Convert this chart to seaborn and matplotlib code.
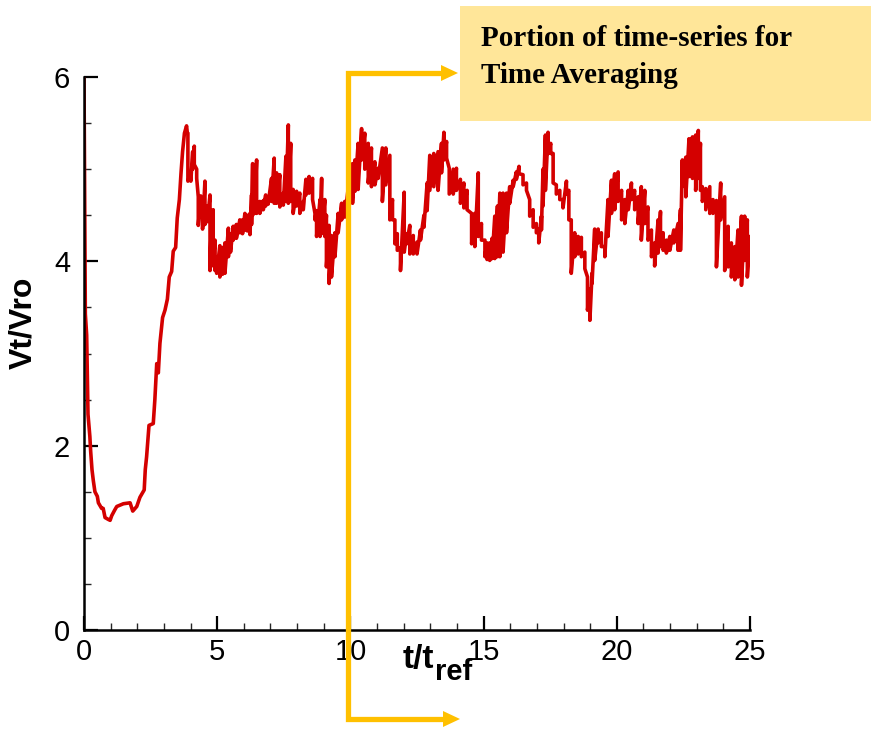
import numpy as np
import pandas as pd
import matplotlib
matplotlib.use('Agg')
import matplotlib.pyplot as plt
import seaborn as sns
from matplotlib.patches import Rectangle
from matplotlib.lines import Line2D

# start-up transient (smooth part of the signal)
t_rise = [0.0, 0.05, 0.1, 0.12, 0.15, 0.22, 0.25, 0.3, 0.35, 0.41, 0.5, 0.54,
          0.66, 0.72, 0.79, 0.91, 0.98, 1.04, 1.15, 1.23, 1.48, 1.73, 1.83, 1.98,
          2.1, 2.26, 2.3, 2.35, 2.44, 2.6, 2.66, 2.73, 2.79, 2.85, 2.95, 3.04,
          3.13, 3.2, 3.29, 3.35, 3.44, 3.5, 3.58, 3.64, 3.7, 3.77, 3.85, 3.88]
v_rise = [6.0, 3.43, 3.2, 2.87, 2.34, 2.1, 1.94, 1.74, 1.62, 1.5, 1.45, 1.38,
          1.32, 1.32, 1.22, 1.2, 1.19, 1.24, 1.3, 1.34, 1.37, 1.38, 1.29, 1.34,
          1.44, 1.52, 1.74, 1.88, 2.22, 2.24, 2.5, 2.89, 2.79, 3.11, 3.39, 3.47,
          3.59, 3.83, 3.89, 4.11, 4.15, 4.47, 4.67, 4.95, 5.19, 5.39, 5.47, 5.39]

# fluctuating part: upper / lower edge of the band read at each time
t_fl = [3.9, 4.01, 4.08, 4.14, 4.23, 4.29, 4.38, 4.45, 4.54, 4.63, 4.73, 4.79,
        4.85, 4.92, 4.98, 5.1, 5.2, 5.29, 5.42, 5.5, 5.6, 5.72, 5.85, 5.95,
        6.04, 6.13, 6.23, 6.29, 6.33, 6.4, 6.48, 6.6, 6.73, 6.82, 6.91, 7.04,
        7.14, 7.23, 7.35, 7.48, 7.58, 7.67, 7.76, 7.85, 7.98, 8.1, 8.23, 8.33,
        8.45, 8.58, 8.67, 8.73, 8.86, 8.92, 9.04, 9.1, 9.2, 9.29, 9.42, 9.54,
        9.67, 9.79, 9.92, 10.08, 10.17, 10.29, 10.42, 10.54, 10.67, 10.79, 10.92, 11.04,
        11.2, 11.33, 11.48, 11.58, 11.67, 11.76, 11.88, 12.02, 12.11, 12.23, 12.36, 12.5,
        12.63, 12.76, 12.88, 12.98, 13.13, 13.29, 13.42, 13.51, 13.61, 13.71, 13.86, 13.98,
        14.13, 14.26, 14.38, 14.55, 14.67, 14.8, 14.92, 15.05, 15.13, 15.23, 15.32, 15.42,
        15.52, 15.61, 15.73, 15.86, 15.98, 16.11, 16.23, 16.33, 16.48, 16.61, 16.73, 16.86,
        16.98, 17.07, 17.17, 17.23, 17.32, 17.42, 17.52, 17.61, 17.73, 17.86, 17.98, 18.11,
        18.2, 18.29, 18.42, 18.55, 18.67, 18.8, 18.9, 18.99, 19.07, 19.17, 19.3, 19.42,
        19.55, 19.67, 19.8, 19.92, 20.05, 20.18, 20.3, 20.43, 20.55, 20.67, 20.8, 20.92,
        21.05, 21.17, 21.3, 21.42, 21.55, 21.64, 21.74, 21.86, 21.99, 22.14, 22.3, 22.39,
        22.46, 22.59, 22.71, 22.84, 22.96, 23.06, 23.14, 23.21, 23.34, 23.49, 23.61, 23.74,
        23.9, 24.05, 24.18, 24.3, 24.43, 24.55, 24.68, 24.8, 24.9, 25.0]
v_top = [5.39, 4.95, 5.19, 5.25, 5.0, 4.7, 4.71, 4.6, 4.87, 4.6, 4.72, 4.55,
         4.56, 4.23, 4.05, 4.17, 4.15, 4.2, 4.36, 4.3, 4.38, 4.4, 4.45, 4.45,
         4.52, 4.5, 4.52, 4.72, 5.06, 4.8, 5.1, 4.65, 4.66, 4.72, 4.7, 4.9,
         5.12, 4.96, 4.94, 4.74, 5.14, 5.48, 5.28, 4.78, 4.76, 4.74, 4.65, 4.89,
         4.92, 4.9, 4.52, 4.55, 4.67, 4.9, 4.67, 4.5, 4.39, 4.28, 4.31, 4.52,
         4.63, 4.65, 4.8, 5.06, 5.1, 5.28, 5.44, 5.39, 5.28, 5.23, 5.08, 5.01,
         5.23, 5.23, 5.15, 4.67, 4.45, 4.3, 4.15, 4.75, 4.3, 4.39, 4.28, 4.21,
         4.34, 4.5, 4.85, 5.15, 5.17, 5.19, 5.28, 5.4, 5.3, 5.01, 5.0, 5.01,
         4.89, 4.85, 4.77, 4.52, 4.52, 4.96, 4.41, 4.23, 4.2, 4.2, 4.25, 4.49,
         4.6, 4.74, 4.74, 4.74, 4.81, 4.88, 4.97, 5.03, 4.94, 4.85, 4.67, 4.56,
         4.41, 4.35, 4.49, 5.0, 5.37, 5.4, 5.28, 5.17, 4.83, 4.77, 4.67, 4.87,
         4.77, 4.45, 4.31, 4.27, 4.26, 4.1, 3.83, 3.7, 3.87, 4.35, 4.35, 4.31,
         4.16, 4.67, 4.88, 4.95, 4.97, 4.77, 4.67, 4.77, 4.85, 4.77, 4.7, 4.81,
         4.77, 4.59, 4.34, 4.2, 4.45, 4.54, 4.31, 4.23, 4.27, 4.34, 4.41, 4.56,
         5.1, 5.13, 5.33, 5.35, 5.37, 5.42, 5.28, 4.81, 4.79, 4.81, 4.67, 4.66,
         4.85, 4.7, 4.38, 4.2, 4.16, 4.34, 4.49, 4.49, 4.45, 4.27]
v_bot = [4.87, 4.87, 5.0, 5.05, 4.9, 4.39, 4.5, 4.35, 4.4, 4.43, 3.9, 3.95,
         4.0, 3.9, 3.87, 3.83, 3.86, 3.87, 4.05, 4.1, 4.23, 4.25, 4.31, 4.3,
         4.34, 4.33, 4.29, 4.4, 4.5, 4.52, 4.52, 4.52, 4.56, 4.6, 4.62, 4.65,
         4.63, 4.63, 4.59, 4.61, 4.65, 4.63, 4.65, 4.52, 4.6, 4.52, 4.56, 4.72,
         4.74, 4.67, 4.45, 4.27, 4.27, 4.3, 4.27, 3.94, 3.76, 3.83, 4.05, 4.31,
         4.45, 4.48, 4.55, 4.63, 4.76, 4.78, 5.1, 5.0, 4.85, 4.81, 4.83, 4.9,
         4.65, 4.83, 4.45, 4.45, 4.19, 4.12, 3.9, 4.1, 4.19, 4.08, 4.08, 4.08,
         4.23, 4.37, 4.55, 4.77, 4.81, 4.77, 4.96, 5.1, 5.12, 4.73, 4.73, 4.77,
         4.63, 4.58, 4.56, 4.19, 4.16, 4.27, 4.23, 4.05, 4.02, 4.01, 4.03, 4.03,
         4.05, 4.05, 4.1, 4.31, 4.63, 4.81, 4.89, 4.95, 4.83, 4.77, 4.49, 4.37,
         4.31, 4.2, 4.34, 4.6, 4.77, 5.17, 5.17, 4.85, 4.73, 4.67, 4.58, 4.73,
         4.45, 3.87, 4.05, 4.08, 4.05, 3.92, 3.47, 3.36, 3.76, 4.01, 4.2, 4.16,
         4.05, 4.27, 4.52, 4.56, 4.65, 4.45, 4.41, 4.56, 4.67, 4.56, 4.41, 4.23,
         4.41, 4.23, 4.05, 3.95, 4.09, 4.16, 4.12, 4.09, 4.12, 4.2, 4.12, 4.12,
         4.81, 4.7, 4.92, 4.9, 4.77, 4.9, 4.77, 4.65, 4.56, 4.52, 4.52, 3.94,
         4.45, 3.9, 3.94, 3.83, 3.8, 3.83, 3.74, 4.01, 3.83, 4.09]

x_ticks = [0, 5, 10, 15, 20, 25]
y_ticks = [0, 2, 4, 6]

# one trace: smooth start, then zig-zag between the band edges
t_all = list(t_rise)
v_all = list(v_rise)
for t, hi, lo in zip(t_fl, v_top, v_bot):
    t_all += [t, t]
    v_all += [hi, lo]
df = pd.DataFrame({'t': t_all, 'v': v_all})

sns.set_style('ticks')
plt.rcParams['font.family'] = ['Liberation Sans', 'DejaVu Sans']
plt.rcParams['text.color'] = 'black'

W, H = 871, 729
fig = plt.figure(figsize=(W / 100, H / 100), dpi=100)
ax = fig.add_axes([84 / W, 1 - 630 / H, 666 / W, 553 / H])

sns.lineplot(data=df, x='t', y='v', ax=ax, estimator=None, sort=False,
             color='#d40000', linewidth=2.6)

ax.set_xlim(0, 25)
ax.set_ylim(0, 6)
ax.set_xticks(x_ticks)
ax.set_yticks(y_ticks)
ax.set_xticks(np.arange(0, 26, 1), minor=True)
ax.set_yticks(np.arange(0, 6.1, 0.5), minor=True)
ax.set_xlabel('')
ax.set_ylabel('')
for s in ['top', 'right']:
    ax.spines[s].set_visible(False)
for s in ['left', 'bottom']:
    ax.spines[s].set_linewidth(1.8)
    ax.spines[s].set_color('black')
ax.tick_params(which='major', direction='in', length=10, width=1.6,
               labelsize=21, pad=6, colors='black')
ax.tick_params(which='minor', direction='in', length=5, width=1.0)
ax.tick_params(axis='y', pad=10)

# axis titles
fig.text(23 / W, 1 - 323 / H, 'Vt/Vro', rotation=90, fontsize=23,
         fontweight='bold', ha='center', va='center')
fig.text(403 / W, 1 - 668 / H, 't/t', fontsize=24, fontweight='bold',
         ha='left', va='baseline')
fig.text(435 / W, 1 - 680 / H, 'ref', fontsize=21, fontweight='bold',
         ha='left', va='baseline')

# callout box
fig.patches.append(Rectangle((460 / W, 1 - 121 / H), 411 / W, 115 / H,
                             transform=fig.transFigure, facecolor='#ffe699',
                             edgecolor='none', zorder=1))
fig.text(481 / W, 1 - 46 / H, 'Portion of time-series for', fontsize=21,
         fontweight='bold', family=['Liberation Serif'], ha='left', va='baseline')
fig.text(481 / W, 1 - 83 / H, 'Time Averaging', fontsize=21,
         fontweight='bold', family=['Liberation Serif'], ha='left', va='baseline')

# orange bracket marking the averaging window
orange = '#ffc000'
xs = [444 / W, 348 / W, 348 / W, 446 / W]
ys = [1 - 73 / H, 1 - 73 / H, 1 - 719 / H, 1 - 719 / H]
fig.lines.append(Line2D(xs, ys, transform=fig.transFigure, color=orange,
                        linewidth=3.8, solid_joinstyle='miter', zorder=5))
for py, tip in [(73, 458), (719, 460)]:
    fig.add_artist(plt.Polygon([[(tip - 17) / W, 1 - (py - 8) / H],
                                [(tip - 17) / W, 1 - (py + 8) / H],
                                [tip / W, 1 - py / H]],
                               closed=True, transform=fig.transFigure,
                               facecolor=orange, edgecolor='none', zorder=5))

fig.savefig('out.png', dpi=100)
